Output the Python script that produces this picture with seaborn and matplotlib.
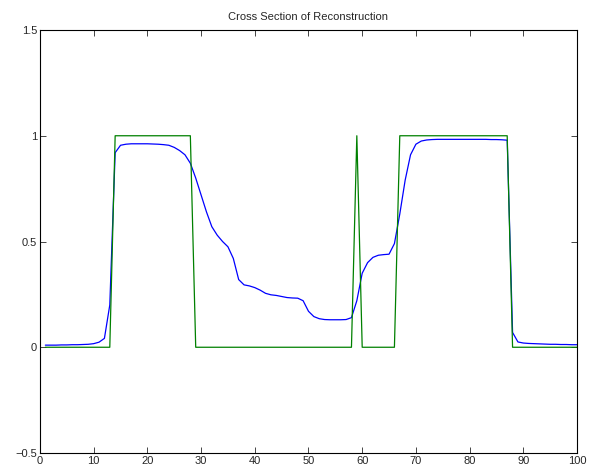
import numpy as np
import pandas as pd
import matplotlib
matplotlib.use('Agg')
import matplotlib.pyplot as plt
import seaborn as sns
from matplotlib.ticker import FuncFormatter

# sample positions along the cross section
x = list(range(1, 101))

# reconstructed profile
recon = [0.010, 0.010, 0.010, 0.011, 0.011, 0.012, 0.012, 0.013, 0.014, 0.017,
         0.024, 0.042, 0.200, 0.920, 0.955, 0.960, 0.962, 0.962, 0.962, 0.962,
         0.961, 0.960, 0.958, 0.955, 0.945, 0.930, 0.910, 0.870, 0.800, 0.720,
         0.640, 0.570, 0.530, 0.500, 0.475, 0.420, 0.320, 0.295, 0.290, 0.282,
         0.270, 0.255, 0.248, 0.245, 0.240, 0.235, 0.233, 0.232, 0.220, 0.170,
         0.145, 0.135, 0.131, 0.130, 0.130, 0.130, 0.131, 0.140, 0.220, 0.350,
         0.400, 0.425, 0.435, 0.438, 0.440, 0.490, 0.630, 0.790, 0.910, 0.960,
         0.975, 0.980, 0.982, 0.983, 0.983, 0.983, 0.983, 0.983, 0.983, 0.983,
         0.983, 0.983, 0.983, 0.982, 0.982, 0.981, 0.979, 0.070, 0.025, 0.020,
         0.018, 0.017, 0.016, 0.015, 0.014, 0.014, 0.013, 0.013, 0.012, 0.012]

# original (true) profile
orig = [0] * 13 + [1] * 15 + [0] * 30 + [1] + [0] * 7 + [1] * 21 + [0] * 13

df = pd.DataFrame({'x': x, 'recon': recon, 'orig': orig})

sns.set_style('ticks')
plt.rcParams['font.family'] = ['Liberation Sans', 'DejaVu Sans']
plt.rcParams['font.size'] = 8
plt.rcParams['xtick.direction'] = 'in'
plt.rcParams['ytick.direction'] = 'in'

fig = plt.figure(figsize=(5.94, 4.74), dpi=100)
ax = fig.add_axes([0.0673, 0.0443, 0.9041, 0.8924])

sns.lineplot(ax=ax, data=df, x='x', y='recon', color='#0000ff', linewidth=0.9)
sns.lineplot(ax=ax, data=df, x='x', y='orig', color='#008000', linewidth=0.9)

ax.set_xlim(0, 100)
ax.set_ylim(-0.5, 1.5)
ax.set_xticks(np.arange(0, 101, 10))
ax.set_yticks([-0.5, 0, 0.5, 1, 1.5])
ax.yaxis.set_major_formatter(FuncFormatter(lambda v, p: ('%g' % v).replace('-', '\u2212')))
ax.tick_params(top=True, right=True, length=4, width=0.6, labelsize=8, pad=2)
for s in ax.spines.values():
    s.set_linewidth(0.8)
    s.set_color('black')
ax.set_xlabel('')
ax.set_ylabel('')
ax.set_title('Cross Section of Reconstruction', fontsize=8, pad=7)

plt.savefig('out.png', dpi=100)
